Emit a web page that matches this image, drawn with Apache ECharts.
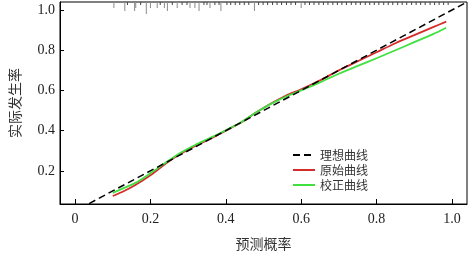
<!DOCTYPE html>
<html lang="zh">
<head>
  <meta charset="UTF-8">
  <title>校准曲线</title>
  <style>
    html, body { margin: 0; width: 100%; height: 100%; background: #fff; }
    #chart { width: 471px; height: 257px; }
  </style>
</head>
<body>
  <div id="chart"></div>
  <script src="https://cdn.jsdelivr.net/npm/echarts@6/dist/echarts.min.js"></script>
  <script>
    // 预测概率 (x) 与两条曲线的实际发生率
    var predX = [0.10, 0.13, 0.16, 0.20, 0.24, 0.28, 0.32, 0.36, 0.40, 0.44, 0.48, 0.52,
                 0.56, 0.60, 0.65, 0.70, 0.75, 0.80, 0.85, 0.90, 0.95, 0.985];
    var rawY = [0.075, 0.10, 0.13, 0.178, 0.235, 0.285, 0.325, 0.36, 0.40, 0.44, 0.49, 0.535,
                0.575, 0.605, 0.65, 0.70, 0.745, 0.79, 0.835, 0.875, 0.915, 0.942];
    var calY = [0.09, 0.115, 0.14, 0.188, 0.24, 0.29, 0.33, 0.365, 0.402, 0.44, 0.49, 0.533,
                0.57, 0.60, 0.64, 0.683, 0.722, 0.76, 0.80, 0.84, 0.88, 0.912];
    // 理想曲线 y = x
    var idealX = [-0.04, 1.04];

    // 顶部的样本分布刻度 (位置, 相对高度)
    var rugX = [0.103, 0.132, 0.139, 0.158, 0.161, 0.174, 0.189, 0.200, 0.218, 0.226, 0.237, 0.245,
                0.258, 0.271, 0.284, 0.297, 0.305, 0.318, 0.329, 0.342, 0.350, 0.358, 0.371, 0.382,
                0.387, 0.403, 0.413, 0.425, 0.437, 0.449, 0.461, 0.476, 0.487, 0.499, 0.511, 0.524,
                0.536, 0.548, 0.561, 0.573, 0.585, 0.600, 0.610, 0.622, 0.634, 0.647, 0.659, 0.671,
                0.684, 0.696, 0.708, 0.720, 0.733, 0.745, 0.757, 0.770, 0.782, 0.794, 0.806, 0.819,
                0.831, 0.843, 0.856, 0.868, 0.880, 0.893, 0.905, 0.917, 0.929, 0.942, 0.954, 0.966,
                0.978, 0.990];
    var rugH = [2, 3, 1, 3, 2, 1, 4, 2, 2, 1, 2, 3,
                1, 2, 1, 1, 2, 2, 3, 1, 1, 2, 1, 1,
                3, 1, 1, 1, 1, 1, 1, 3, 1, 1, 1, 1,
                1, 1, 1, 1, 1, 2, 1, 1, 1, 1, 1, 1,
                1, 1, 1, 1, 1, 1, 1, 1, 1, 1, 1, 1,
                1, 1, 1, 1, 1, 1, 1, 1, 1, 1, 1, 1,
                1, 1];

    var xMin = -0.04, xMax = 1.04, yMin = 0.035, yMax = 1.04;
    var xTicks = [0, 0.2, 0.4, 0.6, 0.8, 1.0];
    var yTicks = [0.2, 0.4, 0.6, 0.8, 1.0];

    var latin = 'Times New Roman';
    var cjk = 'Noto Sans CJK SC';

    function pairs(xs, ys) {
      return xs.map(function (x, i) { return [x, ys[i]]; });
    }

    var myChart = echarts.init(document.getElementById('chart'));

    var option = {
      animation: false,
      grid: {
        left: 57, right: 4, top: 2, bottom: 53,
        show: true, borderColor: '#000', borderWidth: 1
      },
      legend: {
        orient: 'vertical',
        left: 287, top: 144,
        itemWidth: 22, itemHeight: 10, itemGap: 3,
        itemStyle: { opacity: 0 },
        textStyle: { fontFamily: cjk, fontSize: 12, color: '#333' },
        data: ['理想曲线', '原始曲线', '校正曲线']
      },
      xAxis: {
        type: 'value',
        min: xMin, max: xMax,
        name: '预测概率',
        nameLocation: 'middle',
        nameGap: 33,
        nameTextStyle: { fontFamily: cjk, fontSize: 14, color: '#333' },
        axisLine: { onZero: false, lineStyle: { color: '#000', width: 1 } },
        axisTick: {
          inside: true, length: 5, lineStyle: { color: '#000' },
          customValues: xTicks
        },
        axisLabel: {
          fontFamily: latin, fontSize: 14, color: '#222', margin: 8,
          customValues: xTicks,
          formatter: function (v) { return v === 0 ? '0' : v.toFixed(1); }
        },
        splitLine: { show: false }
      },
      yAxis: {
        type: 'value',
        min: yMin, max: yMax,
        name: '实际发生率',
        nameLocation: 'middle',
        nameGap: 38,
        nameTextStyle: { fontFamily: cjk, fontSize: 14, color: '#333' },
        axisLine: { onZero: false, lineStyle: { color: '#000', width: 1 } },
        axisTick: {
          inside: true, length: 4, lineStyle: { color: '#000' },
          customValues: yTicks
        },
        axisLabel: {
          fontFamily: latin, fontSize: 14, color: '#222', margin: 5,
          customValues: yTicks,
          formatter: function (v) { return v.toFixed(1); }
        },
        splitLine: { show: false }
      },
      series: [
        {
          name: '理想曲线',
          type: 'line',
          data: pairs(idealX, idealX),
          symbol: 'none',
          lineStyle: { color: '#000', width: 1.5, type: [7, 4] },
          itemStyle: { color: '#000' },
          z: 3
        },
        {
          name: '原始曲线',
          type: 'line',
          data: pairs(predX, rawY),
          symbol: 'none',
          smooth: 0.3,
          lineStyle: { color: '#d42b2b', width: 1.8 },
          itemStyle: { color: '#d42b2b' },
          z: 2
        },
        {
          name: '校正曲线',
          type: 'line',
          data: pairs(predX, calY),
          symbol: 'none',
          smooth: 0.3,
          lineStyle: { color: '#3fe03f', width: 1.8 },
          itemStyle: { color: '#3fe03f' },
          z: 2
        },
        {
          name: 'rug',
          type: 'custom',
          data: pairs(rugX, rugH),
          encode: { x: 0 },
          renderItem: function (params, api) {
            var p = api.coord([api.value(0), yMax]);
            var len = api.value(1) * 3;
            return {
              type: 'line',
              shape: { x1: p[0], y1: p[1], x2: p[0], y2: p[1] + len },
              style: { stroke: api.value(1) > 1 ? '#8a8a8a' : '#444', lineWidth: 1 }
            };
          },
          z: 1
        }
      ]
    };

    myChart.setOption(option);
  </script>
</body>
</html>
